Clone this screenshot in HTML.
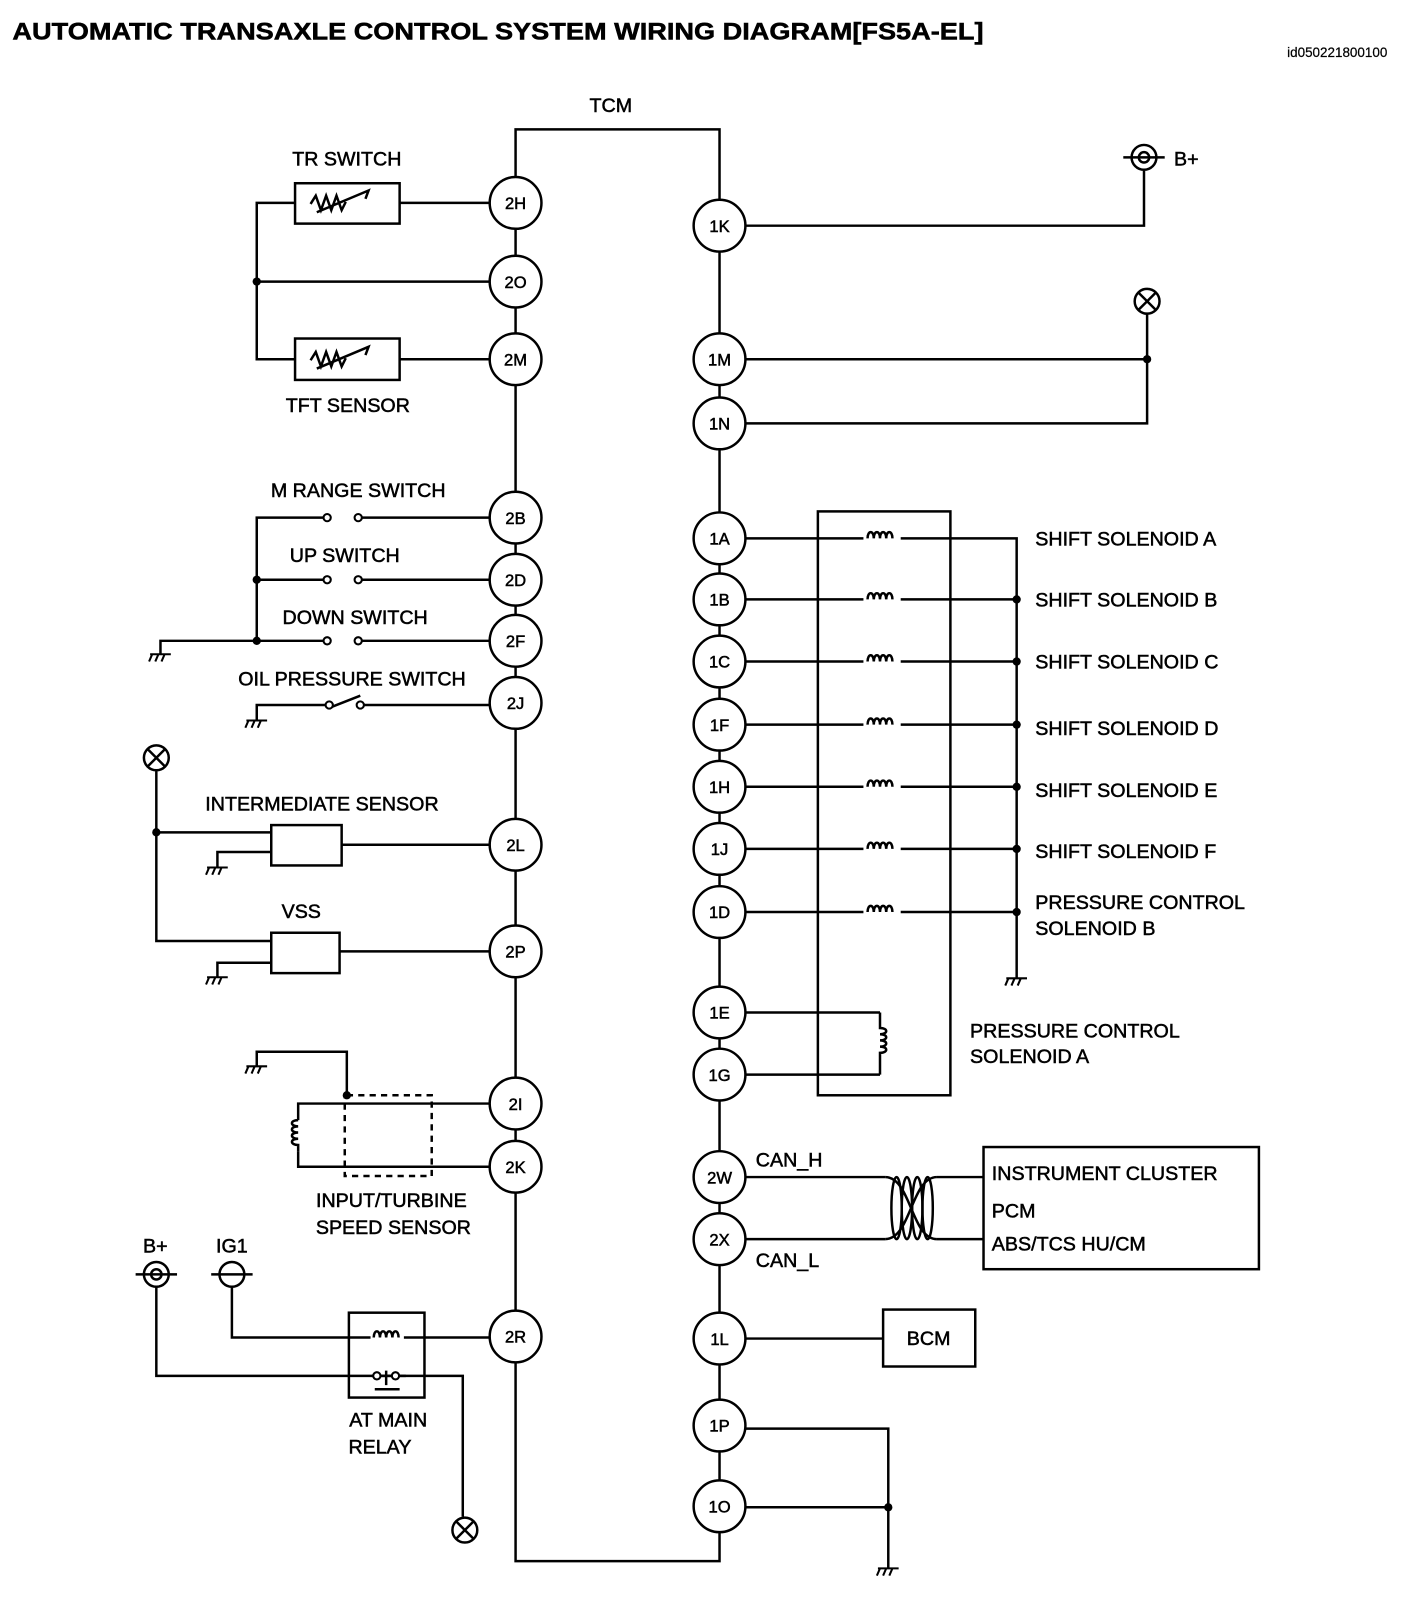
<!DOCTYPE html>
<html><head><meta charset="utf-8"><style>
html,body{margin:0;padding:0;background:#fff;}
svg{display:block;}
text{font-family:"Liberation Sans",sans-serif;fill:#000;stroke:#000;stroke-width:0.5;}
.l{font-size:19px;}
.c{font-size:16px;text-anchor:middle;}
</style></head><body>
<svg width="1408" height="1616" viewBox="0 0 1360 1561" preserveAspectRatio="none" xmlns="http://www.w3.org/2000/svg">
<defs>
<g id="gnd" stroke="#000" stroke-width="2" fill="none"><path d="M-10 0 H10 M-8 0 l-3 7 M-2 0 l-3 7 M4 0 l-3 7"/></g>
<g id="lamp" stroke="#000" stroke-width="2.4" fill="#fff"><circle r="12"/><path d="M-8.5 -8.5 L8.5 8.5 M8.5 -8.5 L-8.5 8.5"/></g>
<path id="hc" d="M0 0 c0 -8 6 -8 6 0 c0 -8 6 -8 6 0 c0 -8 6 -8 6 0 c0 -8 6 -8 6 0" fill="none" stroke="#000" stroke-width="2.4"/>
</defs>
<text x="12" y="38" style="font-size:23px;font-weight:bold" textLength="938" lengthAdjust="spacingAndGlyphs">AUTOMATIC TRANSAXLE CONTROL SYSTEM WIRING DIAGRAM[FS5A-EL]</text>
<text x="1340" y="55" style="font-size:13px;text-anchor:end;stroke-width:0.2">id050221800100</text>
<text x="590" y="108" class="l" text-anchor="middle">TCM</text>

<g stroke="#000" stroke-width="2.4" fill="none">
<path d="M498 125 H695 V1508 H498 Z"/>
<path d="M695 218 H1105 V165"/>
<path d="M695 347 H1108 M695 409 H1108 V303"/>
<rect x="790" y="494" width="128" height="564"/>
<path d="M695 520 H982 V945 M695 579 H982 M695 639 H982 M695 700 H982 M695 760 H982 M695 820 H982 M695 881 H982"/>
<path d="M695 978 H850 M695 1038 H850"/>
<path d="M695 1137 H855 M905 1137 H950 M695 1197 H855 M905 1197 H950"/>
<rect x="950" y="1108" width="266" height="118"/>
<path d="M695 1293 H853"/>
<rect x="853" y="1265" width="89" height="55"/>
<path d="M695 1380 H858 V1515 M695 1456 H858"/>
<path d="M473 196 H386 M285 196 H248 V347 H285 M386 347 H473 M248 272 H473"/>
<rect x="285" y="177" width="101" height="39"/>
<rect x="285" y="327" width="101" height="40"/>
<path d="M473 500 H346 M316 500 H248 V619 M473 560 H346 M316 560 H248 M473 619 H346 M316 619 H155 V632"/>
<path d="M473 681 H348 M318 681 H248 V696 M320 683 L348 672"/>
<path d="M151 745 V909 H262 M151 804 H262 M210 838 V823 H262 M330 816 H473 M210 944 V930 H262 M328 919 H473"/>
<rect x="262" y="797" width="68" height="39"/>
<rect x="262" y="901" width="66" height="39"/>
<path d="M248 1030 V1016 H335 V1058 M473 1066 H288 V1082 M288 1112 V1127 H473"/>
<path d="M335 1058 H417 V1136 H333 V1058" stroke-dasharray="6 5"/>
<path d="M151 1243 V1329 H447 V1465 M224 1243 V1292 H358 M390 1292 H473"/>
<rect x="337" y="1268" width="73" height="82"/>
<path d="M359 1329 H392 M373 1324 V1338 M362 1342 H386"/>
<circle cx="1105" cy="152" r="12"/><circle cx="1105" cy="152" r="5"/><path d="M1085 152 H1125"/>
<circle cx="151" cy="1231" r="12"/><circle cx="151" cy="1231" r="5"/><path d="M131 1231 H171"/>
<circle cx="224" cy="1231" r="12"/><path d="M204 1231 H244"/>
<path d="M300 197 l5 -8 l5 14 l5 -14 l5 14 l5 -14 l5 14 l4 -8 M306 205 L356 184 l-3 8"/>
<path d="M300 348 l5 -8 l5 14 l5 -14 l5 14 l5 -14 l5 14 l4 -8 M306 356 L356 335 l-3 8"/>
<path d="M855 1137 c25 0 25 60 50 60 M855 1197 c25 0 25 -60 50 -60"/>
<ellipse cx="866" cy="1167" rx="5" ry="30"/><ellipse cx="876" cy="1167" rx="5" ry="30"/><ellipse cx="886" cy="1167" rx="5" ry="30"/><ellipse cx="896" cy="1167" rx="5" ry="30"/>
<path d="M850 978 V993 c8 0 8 6 0 6 c8 0 8 6 0 6 c8 0 8 6 0 6 c8 0 8 6 0 6 V1038"/>
<path d="M288 1082 c-8 0 -8 6 0 6 c-8 0 -8 6 0 6 c-8 0 -8 6 0 6 c-8 0 -8 6 0 6 V1112"/>
</g>
<g fill="#fff">
<rect x="834" y="510" width="36" height="12"/><rect x="834" y="569" width="36" height="12"/><rect x="834" y="629" width="36" height="12"/><rect x="834" y="690" width="36" height="12"/><rect x="834" y="750" width="36" height="12"/><rect x="834" y="810" width="36" height="12"/><rect x="834" y="871" width="36" height="12"/>
<rect x="358" y="1282" width="32" height="12"/>
</g>
<use href="#hc" x="838" y="520"/><use href="#hc" x="838" y="579"/><use href="#hc" x="838" y="639"/><use href="#hc" x="838" y="700"/><use href="#hc" x="838" y="760"/><use href="#hc" x="838" y="820"/><use href="#hc" x="838" y="881"/>
<use href="#hc" x="361" y="1292"/>
<g fill="#fff" stroke="#000" stroke-width="2">
<circle cx="316" cy="500" r="3.5"/><circle cx="346" cy="500" r="3.5"/>
<circle cx="316" cy="560" r="3.5"/><circle cx="346" cy="560" r="3.5"/>
<circle cx="316" cy="619" r="3.5"/><circle cx="346" cy="619" r="3.5"/>
<circle cx="318" cy="681" r="3.5"/><circle cx="348" cy="681" r="3.5"/>
<circle cx="364" cy="1329" r="3.5"/><circle cx="382" cy="1329" r="3.5"/>
</g>
<g fill="#000">
<circle cx="1108" cy="347" r="4"/><circle cx="982" cy="579" r="4"/><circle cx="982" cy="639" r="4"/><circle cx="982" cy="700" r="4"/><circle cx="982" cy="760" r="4"/><circle cx="982" cy="820" r="4"/><circle cx="982" cy="881" r="4"/>
<circle cx="858" cy="1456" r="4"/><circle cx="248" cy="272" r="4"/><circle cx="248" cy="560" r="4"/><circle cx="248" cy="619" r="4"/><circle cx="151" cy="804" r="4"/><circle cx="335" cy="1058" r="4"/>
</g>
<use href="#gnd" x="982" y="945"/><use href="#gnd" x="858" y="1515"/><use href="#gnd" x="155" y="632"/><use href="#gnd" x="248" y="696"/><use href="#gnd" x="210" y="838"/><use href="#gnd" x="210" y="944"/><use href="#gnd" x="248" y="1030"/>
<use href="#lamp" x="1108" y="291"/><use href="#lamp" x="151" y="732"/><use href="#lamp" x="449" y="1478"/>

<g fill="#fff" stroke="#000" stroke-width="2.4">
<circle cx="498" cy="196" r="25"/><circle cx="498" cy="272" r="25"/><circle cx="498" cy="347" r="25"/><circle cx="498" cy="500" r="25"/><circle cx="498" cy="560" r="25"/><circle cx="498" cy="619" r="25"/><circle cx="498" cy="679" r="25"/><circle cx="498" cy="816" r="25"/><circle cx="498" cy="919" r="25"/><circle cx="498" cy="1066" r="25"/><circle cx="498" cy="1127" r="25"/><circle cx="498" cy="1291" r="25"/>
<circle cx="695" cy="218" r="25"/><circle cx="695" cy="347" r="25"/><circle cx="695" cy="409" r="25"/><circle cx="695" cy="520" r="25"/><circle cx="695" cy="579" r="25"/><circle cx="695" cy="639" r="25"/><circle cx="695" cy="700" r="25"/><circle cx="695" cy="760" r="25"/><circle cx="695" cy="820" r="25"/><circle cx="695" cy="881" r="25"/><circle cx="695" cy="978" r="25"/><circle cx="695" cy="1038" r="25"/><circle cx="695" cy="1137" r="25"/><circle cx="695" cy="1197" r="25"/><circle cx="695" cy="1293" r="25"/><circle cx="695" cy="1377" r="25"/><circle cx="695" cy="1455" r="25"/>
</g>
<g>
<text x="498" y="202" class="c">2H</text><text x="498" y="278" class="c">2O</text><text x="498" y="353" class="c">2M</text><text x="498" y="506" class="c">2B</text><text x="498" y="566" class="c">2D</text><text x="498" y="625" class="c">2F</text><text x="498" y="685" class="c">2J</text><text x="498" y="822" class="c">2L</text><text x="498" y="925" class="c">2P</text><text x="498" y="1072" class="c">2I</text><text x="498" y="1133" class="c">2K</text><text x="498" y="1297" class="c">2R</text>
<text x="695" y="224" class="c">1K</text><text x="695" y="353" class="c">1M</text><text x="695" y="415" class="c">1N</text><text x="695" y="526" class="c">1A</text><text x="695" y="585" class="c">1B</text><text x="695" y="645" class="c">1C</text><text x="695" y="706" class="c">1F</text><text x="695" y="766" class="c">1H</text><text x="695" y="826" class="c">1J</text><text x="695" y="887" class="c">1D</text><text x="695" y="984" class="c">1E</text><text x="695" y="1044" class="c">1G</text><text x="695" y="1143" class="c">2W</text><text x="695" y="1203" class="c">2X</text><text x="695" y="1299" class="c">1L</text><text x="695" y="1383" class="c">1P</text><text x="695" y="1461" class="c">1O</text>
</g>
<g>
<text x="1134" y="160" class="l">B+</text>
<text x="1000" y="527" class="l">SHIFT SOLENOID A</text>
<text x="1000" y="586" class="l">SHIFT SOLENOID B</text>
<text x="1000" y="646" class="l">SHIFT SOLENOID C</text>
<text x="1000" y="710" class="l">SHIFT SOLENOID D</text>
<text x="1000" y="770" class="l">SHIFT SOLENOID E</text>
<text x="1000" y="829" class="l">SHIFT SOLENOID F</text>
<text x="1000" y="878" class="l">PRESSURE CONTROL</text>
<text x="1000" y="903" class="l">SOLENOID B</text>
<text x="937" y="1002" class="l">PRESSURE CONTROL</text>
<text x="937" y="1027" class="l">SOLENOID A</text>
<text x="730" y="1127" class="l">CAN_H</text>
<text x="730" y="1224" class="l">CAN_L</text>
<text x="958" y="1140" class="l">INSTRUMENT CLUSTER</text>
<text x="958" y="1176" class="l">PCM</text>
<text x="958" y="1208" class="l">ABS/TCS HU/CM</text>
<text x="897" y="1299" class="l" text-anchor="middle">BCM</text>
<text x="335" y="160" class="l" text-anchor="middle">TR SWITCH</text>
<text x="336" y="398" class="l" text-anchor="middle">TFT SENSOR</text>
<text x="346" y="480" class="l" text-anchor="middle">M RANGE SWITCH</text>
<text x="333" y="543" class="l" text-anchor="middle">UP SWITCH</text>
<text x="343" y="603" class="l" text-anchor="middle">DOWN SWITCH</text>
<text x="340" y="662" class="l" text-anchor="middle">OIL PRESSURE SWITCH</text>
<text x="311" y="783" class="l" text-anchor="middle">INTERMEDIATE SENSOR</text>
<text x="291" y="887" class="l" text-anchor="middle">VSS</text>
<text x="378" y="1166" class="l" text-anchor="middle">INPUT/TURBINE</text>
<text x="380" y="1192" class="l" text-anchor="middle">SPEED SENSOR</text>
<text x="150" y="1210" class="l" text-anchor="middle">B+</text>
<text x="224" y="1210" class="l" text-anchor="middle">IG1</text>
<text x="375" y="1378" class="l" text-anchor="middle">AT MAIN</text>
<text x="367" y="1404" class="l" text-anchor="middle">RELAY</text>
</g>
</svg>
</body></html>
